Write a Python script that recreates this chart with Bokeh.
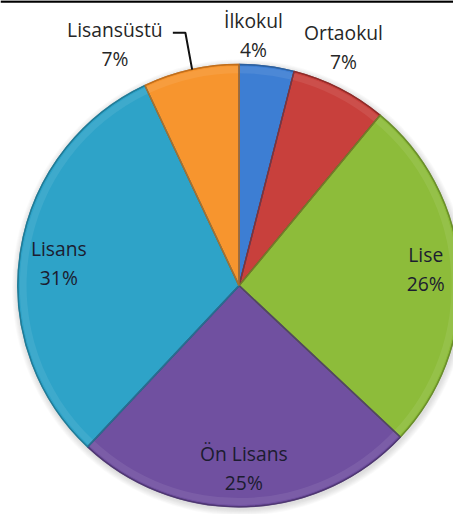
import math
from bokeh.plotting import figure
from bokeh.models import Range1d, ColumnDataSource
from bokeh.core.properties import value
from bokeh.embed import file_html
from bokeh.resources import INLINE

categories = ["İlkokul", "Ortaokul", "Lise", "Ön Lisans", "Lisans", "Lisansüstü"]
values = [4, 7, 26, 25, 31, 7]
colors = ["#3D7ED3", "#C8403C", "#8DBC3A", "#7050A0", "#2EA3C8", "#F7952E"]
edges = ["#2C5F9E", "#8E2B28", "#6A8E2A", "#4E3672", "#1F7A96", "#C06E1C"]

W, H = 453, 514
# data units: reference-image pixels (y measured upward from the bottom, 530 tall)
p = figure(width=W, height=H, x_range=Range1d(0, 469), y_range=Range1d(0, 530),
           output_backend="svg", toolbar_location=None, min_border=0)
p.axis.visible = False
p.grid.visible = False
p.outline_line_color = None
p.background_fill_color = "white"
p.border_fill_color = "white"

CX, CY, R = 247, 236, 229
total = sum(values)
FS = "19.3px"

def pt(ang_deg, r):
    a = math.radians(ang_deg)
    return CX + r * math.sin(a), CY + r * math.cos(a)

# thin dark line at the very top
p.line(x=[0, 469], y=[529, 529], line_color="#000000", line_width=2.5)

# soft shadow
for i in range(7, 0, -1):
    p.circle(x=[CX + 1], y=[CY - 2], radius=R + i, fill_color="#808080",
             fill_alpha=0.045, line_color=None)

starts, ends = [], []
cum = 0
for v in values:
    a0 = cum / total * 360
    cum += v
    a1 = cum / total * 360
    starts.append(math.pi / 2 - math.radians(a0))
    ends.append(math.pi / 2 - math.radians(a1))

src = ColumnDataSource(dict(start=starts, end=ends, color=colors, edge=edges))
p.wedge(x=CX, y=CY, radius=R, start_angle="start", end_angle="end",
        direction="clock", fill_color="color", line_color="edge", line_width=1.2,
        source=src)
# subtle bevel highlight near the rim
p.annular_wedge(x=CX, y=CY, inner_radius=R - 9, outer_radius=R - 2,
                start_angle="start", end_angle="end", direction="clock",
                fill_color="white", fill_alpha=0.08, line_color=None, source=src)
# dark rim
p.wedge(x=CX, y=CY, radius=R, start_angle="start", end_angle="end",
        direction="clock", fill_color=None, line_color="edge", line_width=1.5,
        line_alpha=0.8, source=src)

# label placement (angle clockwise from top, radius)
place = {
    "İlkokul": (3.3, 259),
    "Ortaokul": (23.7, 269),
    "Lise": (85.0, 194),
    "Ön Lisans": (178.5, 188),
    "Lisans": (277.0, 188),
}
font = value("Open Sans")
for cat, v in zip(categories, values):
    if cat in place:
        ang, r = place[cat]
        x, y = pt(ang, r)
        inside = r < R
        col = "#1c1c30" if inside else "#262626"
        p.text(x=[x], y=[y + 15], text=[cat], text_font=font, text_font_size=FS,
               text_align="center", text_baseline="middle", text_color=col)
        p.text(x=[x], y=[y - 15], text=[f"{v}%"], text_font=font, text_font_size=FS,
               text_align="center", text_baseline="middle", text_color=col)

# Lisansüstü with leader line
i = categories.index("Lisansüstü")
ex, ey = pt(-12.3, R - 1)
elx, ely = ex - 7, ey + 38
p.line(x=[elx - 13, elx, ex], y=[ely, ely, ey], line_color="#111111", line_width=2)
p.text(x=[elx - 73], y=[ely + 3], text=[categories[i]], text_font=font,
       text_font_size=FS, text_align="center", text_baseline="middle",
       text_color="#262626")
p.text(x=[elx - 73], y=[ely - 27], text=[f"{values[i]}%"], text_font=font,
       text_font_size=FS, text_align="center", text_baseline="middle",
       text_color="#262626")

open("out.html", "w").write(file_html(p, INLINE))
